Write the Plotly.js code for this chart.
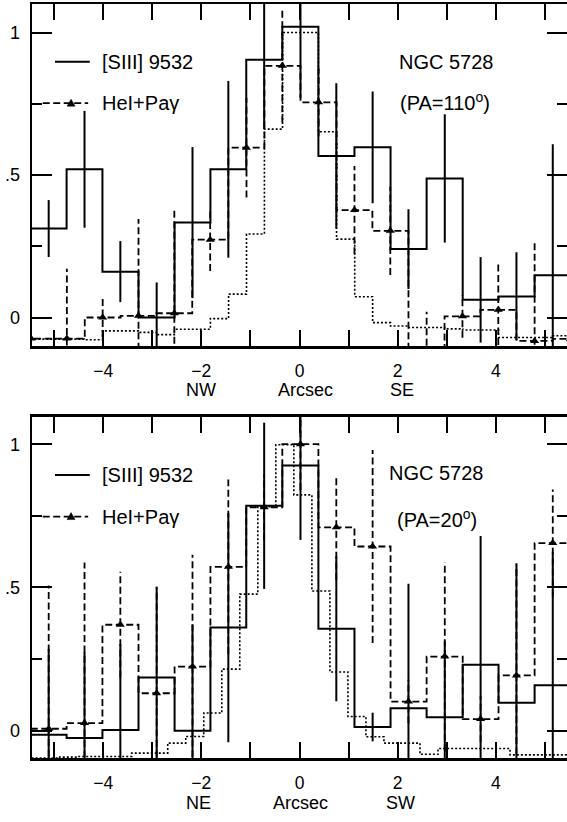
<!DOCTYPE html>
<html>
<head>
<meta charset="utf-8">
<script src="https://cdn.plot.ly/plotly-3.0.1.min.js"></script>
<style>html,body{margin:0;padding:0;background:#fff;overflow:hidden}</style>
</head>
<body>
<div id="chart" style="width:567px;height:822px"></div>
<script>
// ---------- data ----------
// bin centres of the [SIII] histogram (arcsec)
const binX = [-5.11,-4.38,-3.65,-2.91,-2.18,-1.45,-0.72,0.02,0.75,1.49,2.22,2.96,3.69,4.42,5.16];

// Top panel: PA = 110
const topSIII    = [0.312,0.52,0.161,0.0,0.333,0.52,0.904,1.02,0.567,0.597,0.24,0.488,0.062,0.074,0.148];
const topSIIIErr = [0.1,0.205,0.107,0.123,0.265,0.31,0.243,0.25,0.255,0.196,0.14,0.225,0.15,0.155,0.46];
const topHeX     = [-5.47,-4.74,-4.01,-3.28,-2.55,-1.82,-1.08,-0.35,0.39,1.12,1.85,2.59,3.32,4.05,4.79,5.52];
const topHe      = [-0.074,-0.074,0.0,0.006,0.015,0.273,0.596,0.883,0.755,0.377,0.304,-0.15,0.004,0.027,-0.082,-0.075];
const topHeErr   = [0,0.245,0.07,0.34,0.365,0.11,0.175,0.2,0.12,0.155,0.155,0.17,0.075,0.16,0.345,0];
const topDotX    = [-5.30,-4.93,-4.57,-4.20,-3.83,-3.47,-3.10,-2.73,-2.37,-2.00,-1.63,-1.26,-0.90,-0.53,-0.16,0.20,0.57,0.94,1.31,1.67,2.04,2.41,2.77,3.14,3.51,3.87,4.24,4.61,4.97,5.34];
const topDot     = [-0.076,-0.076,-0.076,-0.078,-0.047,-0.047,-0.052,-0.06,-0.041,-0.041,-0.004,0.082,0.293,0.661,1.0,1.0,0.652,0.275,0.073,-0.018,-0.03,-0.035,-0.035,-0.04,-0.044,-0.044,-0.07,-0.07,-0.07,-0.064];

// Bottom panel: PA = 20
const botSIII    = [-0.014,-0.025,0.003,0.186,0.0,0.36,0.785,0.926,0.356,0.013,0.079,0.047,0.23,0.098,0.159];
const botSIIIErr = [0.3,0.3,0.3,0.317,0.37,0.4,0.29,0.26,0.253,0.05,0.434,0.265,0.45,0.487,0.466];
const botHe      = [0.007,0.027,0.37,0.131,0.224,0.572,0.78,1.0,0.71,0.643,0.102,0.259,0.041,0.193,0.655];
const botHeErr   = [0.5,0.56,0.185,0.37,0.39,0.305,0.115,0.16,0.183,0.337,0.076,0.33,0.08,0.386,0.187];
const botDotX    = [-5.437,-5.070,-4.703,-4.336,-3.969,-3.602,-3.235,-2.868,-2.501,-2.134,-1.767,-1.400,-1.033,-0.666,-0.299,0.069,0.436,0.803,1.170,1.537,1.904,2.271,2.638,3.005,3.372,3.739,4.106,4.473,4.840,5.207,5.574];
const botDot     = [-0.095,-0.095,-0.092,-0.09,-0.09,-0.09,-0.078,-0.078,-0.043,-0.02,0.062,0.215,0.477,0.782,0.998,0.823,0.488,0.205,0.05,-0.021,-0.043,-0.043,-0.082,-0.062,-0.062,-0.062,-0.062,-0.084,-0.084,-0.084,-0.084];

const seriesNames = ['[SIII] 9532', 'HeI+Pa\u03b3'];
const xTitle = 'Arcsec';
const topSides = ['NW', 'SE'];
const botSides = ['NE', 'SW'];
const topLabel = ['NGC 5728', '(PA=110<sup>o</sup>)'];
const botLabel = ['NGC 5728', '(PA=20<sup>o</sup>)'];

// ---------- helpers ----------
function stepXY(c, v) {
  const xs = [], ys = [];
  for (let i = 0; i < c.length; i++) {
    const left = i === 0 ? c[0] - (c[1] - c[0]) / 2 : (c[i - 1] + c[i]) / 2;
    xs.push(left); ys.push(v[i]);
  }
  const n = c.length;
  xs.push(c[n - 1] + (c[n - 1] - c[n - 2]) / 2); ys.push(v[n - 1]);
  return {xs, ys};
}
function errXY(c, v, e) {
  const xs = [], ys = [];
  for (let i = 0; i < c.length; i++) {
    if (e[i] > 0) { xs.push(c[i], c[i], null); ys.push(v[i] - e[i], v[i] + e[i], null); }
  }
  return {xs, ys};
}
const BLACK = '#000';
const DASH = '7px,3.5px';
const DOT = '2px,2px';

function panelTraces(xa, ya, sx, s, se, hx, h, he, dx, d) {
  const t = [];
  const ds = stepXY(dx, d);
  t.push({x: ds.xs, y: ds.ys, xaxis: xa, yaxis: ya, mode: 'lines', line: {shape: 'hv', color: BLACK, width: 1.6, dash: DOT}, hoverinfo: 'skip'});
  const ss = stepXY(sx, s);
  t.push({x: ss.xs, y: ss.ys, xaxis: xa, yaxis: ya, mode: 'lines', name: seriesNames[0], line: {shape: 'hv', color: BLACK, width: 2}});
  const se2 = errXY(sx, s, se);
  t.push({x: se2.xs, y: se2.ys, xaxis: xa, yaxis: ya, mode: 'lines', line: {color: BLACK, width: 2}, hoverinfo: 'skip'});
  const hs = stepXY(hx, h);
  t.push({x: hs.xs, y: hs.ys, xaxis: xa, yaxis: ya, mode: 'lines', name: seriesNames[1], line: {shape: 'hv', color: BLACK, width: 1.8, dash: DASH}});
  const he2 = errXY(hx, h, he);
  t.push({x: he2.xs, y: he2.ys, xaxis: xa, yaxis: ya, mode: 'lines', line: {color: BLACK, width: 1.8, dash: DASH}, hoverinfo: 'skip'});
  t.push({x: hx, y: h, xaxis: xa, yaxis: ya, mode: 'markers', marker: {symbol: 'triangle-up', size: 8, color: BLACK}});
  return t;
}

const traces = [].concat(
  panelTraces('x', 'y', binX, topSIII, topSIIIErr, topHeX, topHe, topHeErr, topDotX, topDot),
  panelTraces('x2', 'y2', binX, botSIII, botSIIIErr, binX, botHe, botHeErr, botDotX, botDot)
);

function xAxis(anchor) {
  return {
    anchor: anchor, domain: [0, 1], range: [-5.45, 5.45],
    tick0: 0, dtick: 2, ticks: 'inside', ticklen: 16, tickwidth: 2, tickcolor: BLACK,
    minor: {dtick: 1, tick0: 0, ticks: 'inside', ticklen: 16, tickwidth: 2, tickcolor: BLACK, showgrid: false},
    showline: true, linewidth: 2.5, linecolor: BLACK, mirror: 'allticks',
    showgrid: false, zeroline: false, tickfont: {size: 17.5}, ticklabelstandoff: 7
  };
}
function yAxis(anchor, domain, range) {
  return {
    anchor: anchor, domain: domain, range: range,
    tick0: 0, dtick: 0.5, labelalias: {'0.5': '.5'},
    ticks: 'inside', ticklen: 20, tickwidth: 2, tickcolor: BLACK,
    minor: {dtick: 0.25, tick0: 0, ticks: 'inside', ticklen: 10, tickwidth: 2, tickcolor: BLACK, showgrid: false},
    showline: true, linewidth: 2.5, linecolor: BLACK, mirror: 'allticks',
    showgrid: false, zeroline: false, tickfont: {size: 18}, ticklabelstandoff: 6
  };
}

function legendDeco(xr, yr, yS, yD) {
  return [
    {type: 'line', xref: xr, yref: yr, x0: 0.043, x1: 0.108, y0: yS, y1: yS, line: {color: BLACK, width: 2}},
    {type: 'line', xref: xr, yref: yr, x0: 0.02, x1: 0.105, y0: yD, y1: yD, line: {color: BLACK, width: 1.8, dash: DASH}},
    {type: 'path', xref: xr, yref: yr, xsizemode: 'pixel', ysizemode: 'pixel', xanchor: 0.073, yanchor: yD,
     path: 'M-4,-3 L4,-3 L0,4 Z', fillcolor: BLACK, line: {color: BLACK, width: 0.5}}
  ];
}
function textAnn(xr, yr, x, y, text, anchor) {
  return {xref: xr, yref: yr, x: x, y: y, text: text, showarrow: false, xanchor: anchor, yanchor: 'middle', font: {size: 20}};
}
function sideAnn(xr, yr, x, y, text) {
  return {xref: xr, yref: yr, x: x, y: y, text: text, showarrow: false, xanchor: 'center', yanchor: 'middle', font: {size: 18}};
}

const layout = {
  width: 567, height: 822,
  margin: {l: 32, r: 0, t: 4, b: 64},
  paper_bgcolor: '#fff', plot_bgcolor: '#fff',
  showlegend: false,
  font: {family: '"Liberation Sans", Arial, Helvetica, sans-serif', size: 18, color: BLACK},
  xaxis: xAxis('y'),
  yaxis: yAxis('x', [0.5464, 1], [-0.1, 1.1]),
  xaxis2: xAxis('y2'),
  yaxis2: yAxis('x2', [0, 0.4523], [-0.095, 1.095]),
  shapes: [].concat(
    legendDeco('x domain', 'y domain', 0.831, 0.710),
    legendDeco('x2 domain', 'y2 domain', 0.830, 0.708)
  ),
  annotations: [
    textAnn('x domain', 'y domain', 0.127, 0.831, seriesNames[0], 'left'),
    textAnn('x domain', 'y domain', 0.127, 0.710, seriesNames[1], 'left'),
    textAnn('x domain', 'y domain', 0.774, 0.831, topLabel[0], 'center'),
    textAnn('x domain', 'y domain', 0.772, 0.714, topLabel[1], 'center'),
    textAnn('x2 domain', 'y2 domain', 0.127, 0.830, seriesNames[0], 'left'),
    textAnn('x2 domain', 'y2 domain', 0.127, 0.708, seriesNames[1], 'left'),
    textAnn('x2 domain', 'y2 domain', 0.756, 0.835, botLabel[0], 'center'),
    textAnn('x2 domain', 'y2 domain', 0.757, 0.703, botLabel[1], 'center'),
    sideAnn('x domain', 'y domain', 0.315, -0.129, topSides[0]),
    sideAnn('x domain', 'y domain', 0.511, -0.129, xTitle),
    sideAnn('x domain', 'y domain', 0.6925, -0.129, topSides[1]),
    sideAnn('x2 domain', 'y2 domain', 0.311, -0.131, botSides[0]),
    sideAnn('x2 domain', 'y2 domain', 0.502, -0.131, xTitle),
    sideAnn('x2 domain', 'y2 domain', 0.688, -0.131, botSides[1])
  ]
};

Plotly.newPlot('chart', traces, layout, {displayModeBar: false, staticPlot: true});
</script>
</body>
</html>
